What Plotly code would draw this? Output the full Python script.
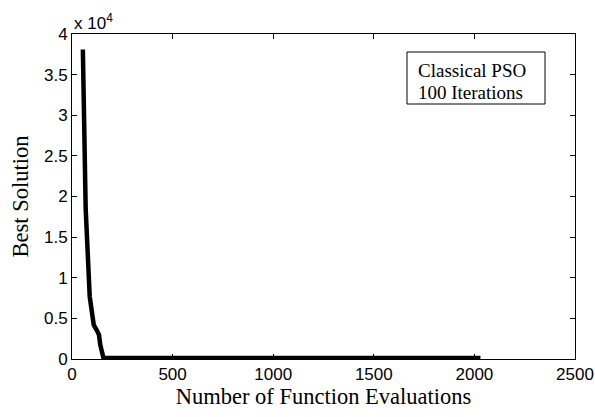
import plotly.graph_objects as go

evals = [54, 68, 88, 108, 122, 134, 140, 156, 2030]
best = [38100, 18500, 7700, 4200, 3600, 3000, 1800, 150, 120]

y_tickvals = [0, 5000, 10000, 15000, 20000, 25000, 30000, 35000, 40000]
y_ticktext = ["0", "0.5", "1", "1.5", "2", "2.5", "3", "3.5", "4"]
x_tickvals = [0, 500, 1000, 1500, 2000, 2500]
box_lines = ["Classical PSO", "100 Iterations"]

fig = go.Figure()
fig.add_trace(go.Scatter(x=evals, y=best, mode="lines",
                         line=dict(color="black", width=4.5), showlegend=False))

axis_common = dict(showline=True, linecolor="black", linewidth=1, mirror="ticks",
                   ticks="inside", ticklen=5, tickcolor="black", showgrid=False,
                   zeroline=False, automargin=False,
                   tickfont=dict(family="Liberation Sans, Arial", size=17, color="black"))

serif = "Liberation Serif, Times New Roman"

fig.update_layout(
    width=595, height=417,
    margin=dict(l=72, r=20, t=34, b=58),
    paper_bgcolor="white", plot_bgcolor="white",
    xaxis=dict(range=[0, 2500], tickvals=x_tickvals,
               title=dict(text="Number of Function Evaluations", standoff=4,
                          font=dict(family=serif, size=22.5, color="black")),
               **axis_common),
    yaxis=dict(range=[0, 40000], tickvals=y_tickvals, ticktext=y_ticktext,
               title=dict(text="Best Solution", standoff=9,
                          font=dict(family=serif, size=22.5, color="black")),
               **axis_common),
    shapes=[dict(type="rect", xref="paper", yref="paper",
                 x0=0.666, x1=0.9404, y0=0.7846, y1=0.9446,
                 line=dict(color="black", width=1), fillcolor="white", layer="above")],
    annotations=[
        dict(text="x 10<sup>4</sup>", xref="paper", yref="paper", x=0.0, y=1.0,
             xanchor="left", yanchor="bottom", showarrow=False, yshift=-1,
             font=dict(family="Liberation Sans, Arial", size=17, color="black")),
        dict(text=box_lines[0], xref="paper", yref="paper",
             x=0.684, y=0.889, xanchor="left", yanchor="middle", showarrow=False,
             font=dict(family=serif, size=19, color="black")),
        dict(text=box_lines[1], xref="paper", yref="paper",
             x=0.684, y=0.8185, xanchor="left", yanchor="middle", showarrow=False,
             font=dict(family=serif, size=19, color="black")),
    ],
)

fig.write_html("out.html")
